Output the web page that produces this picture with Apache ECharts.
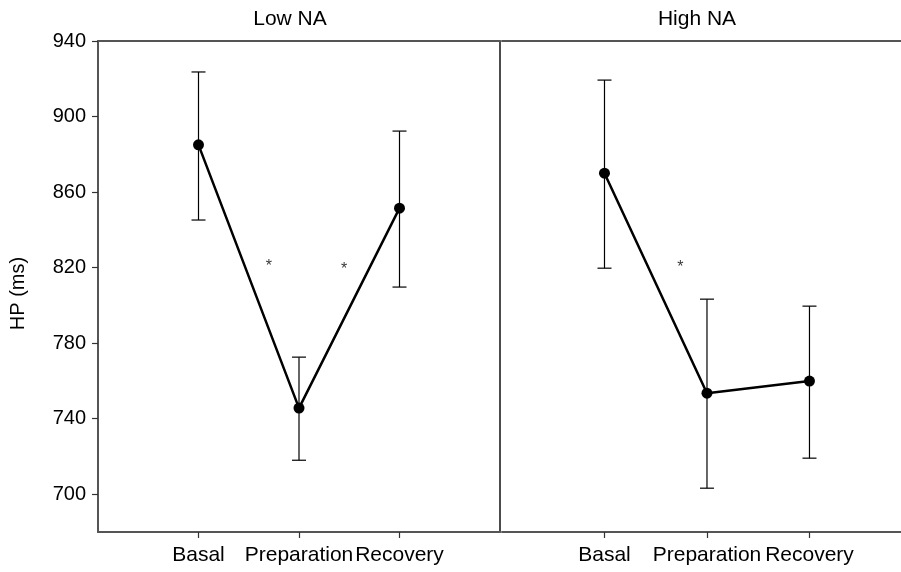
<!DOCTYPE html>
<html>
<head>
<meta charset="utf-8">
<script src="https://cdn.jsdelivr.net/npm/echarts@6/dist/echarts.min.js"></script>
<style>html,body{margin:0;padding:0;background:#fff}#c{width:901px;height:572px}</style>
</head>
<body>
<div id="c"></div>
<script>
var categories = ['Basal', 'Preparation', 'Recovery'];
var yTicks = [700, 740, 780, 820, 860, 900, 940];
var panelTitles = ['Low NA', 'High NA'];
var lowMean = [885, 745.6, 851.5];
var lowUpper = [923.6, 772.6, 892.3];
var lowLower = [845.2, 718, 809.7];
var highMean = [870, 753.5, 759.9];
var highUpper = [919.3, 803.3, 799.6];
var highLower = [819.7, 703.2, 719.1];
var lowStars = [[1.70, 820.8], [2.45, 819.2]];
var highStars = [[1.74, 820]];

var FONT = '"Liberation Sans", Arial, Helvetica, sans-serif';
var chart = echarts.init(document.getElementById('c'));

function pts(means) { return means.map(function (v, i) { return [i + 1, v]; }); }
function errs(lo, hi) { return lo.map(function (v, i) { return [i + 1, v, hi[i]]; }); }

function errRender(params, api) {
  var x = api.value(0);
  var a = api.coord([x, api.value(1)]);
  var b = api.coord([x, api.value(2)]);
  var w = 7;
  var st = { stroke: '#000', lineWidth: 1.2 };
  return {
    type: 'group',
    children: [
      { type: 'line', shape: { x1: a[0], y1: a[1], x2: b[0], y2: b[1] }, style: st },
      { type: 'line', shape: { x1: a[0] - w, y1: a[1], x2: a[0] + w, y2: a[1] }, style: st },
      { type: 'line', shape: { x1: b[0] - w, y1: b[1], x2: b[0] + w, y2: b[1] }, style: st }
    ]
  };
}

function bottomX(gi, mx) {
  return {
    type: 'value', gridIndex: gi, position: 'bottom', min: 0, max: mx,
    axisLine: { show: true, lineStyle: { color: '#555', width: 2 } },
    axisTick: { show: true, customValues: [1, 2, 3], length: 6, lineStyle: { color: '#333', width: 1.2 } },
    axisLabel: { show: true, customValues: [1, 2, 3], margin: 13, color: '#000', fontSize: 21, fontFamily: FONT,
      formatter: function (v) { return categories[Math.round(v) - 1] || ''; } },
    splitLine: { show: false }
  };
}
function topX(gi, mx) {
  return {
    type: 'value', gridIndex: gi, position: 'top', min: 0, max: mx,
    axisLine: { show: true, onZero: false, lineStyle: { color: '#555', width: 2 } },
    axisTick: { show: false }, axisLabel: { show: false }, splitLine: { show: false }
  };
}
function starSeries(xi, yi, data) {
  return {
    type: 'scatter', xAxisIndex: xi, yAxisIndex: yi, data: data, symbolSize: 1,
    itemStyle: { color: 'rgba(0,0,0,0)' }, silent: true,
    label: { show: true, position: 'inside', formatter: '*', color: '#000', fontSize: 16, fontFamily: FONT }
  };
}

var RIGHT_MAX = 3.893;

chart.setOption({
  animation: false,
  backgroundColor: '#fff',
  graphic: [
    { type: 'text', x: 290, y: 9, style: { text: panelTitles[0], textAlign: 'center', fill: '#000', fontSize: 21, fontFamily: FONT } },
    { type: 'text', x: 697, y: 9, style: { text: panelTitles[1], textAlign: 'center', fill: '#000', fontSize: 21, fontFamily: FONT } }
  ],
  grid: [
    { left: 98, top: 41, width: 402, height: 491 },
    { left: 502, top: 41, right: 0, height: 491 }
  ],
  xAxis: [bottomX(0, 4), topX(0, 4), bottomX(1, RIGHT_MAX), topX(1, RIGHT_MAX)],
  yAxis: [
    {
      type: 'value', gridIndex: 0, position: 'left', min: 680, max: 940,
      name: 'HP (ms)', nameLocation: 'middle', nameGap: 70,
      nameTextStyle: { color: '#000', fontSize: 20, fontFamily: FONT, padding: [0, 14, 0, 0] },
      axisLine: { show: true, lineStyle: { color: '#555', width: 2 } },
      axisTick: { show: true, customValues: yTicks, length: 6, lineStyle: { color: '#333', width: 1.2 } },
      axisLabel: { show: true, customValues: yTicks, margin: 12, color: '#000', fontSize: 20, fontFamily: FONT },
      splitLine: { show: false }
    },
    {
      type: 'value', gridIndex: 0, position: 'right', min: 680, max: 940,
      axisLine: { show: true, onZero: false, lineStyle: { color: '#111', width: 1.5 } },
      axisTick: { show: false }, axisLabel: { show: false }, splitLine: { show: false }
    },
    {
      type: 'value', gridIndex: 1, position: 'left', min: 680, max: 940,
      axisLine: { show: false }, axisTick: { show: false }, axisLabel: { show: false }, splitLine: { show: false }
    }
  ],
  series: [
    { type: 'custom', xAxisIndex: 0, yAxisIndex: 0, data: errs(lowLower, lowUpper), renderItem: errRender, silent: true },
    { type: 'custom', xAxisIndex: 2, yAxisIndex: 2, data: errs(highLower, highUpper), renderItem: errRender, silent: true },
    { type: 'line', xAxisIndex: 0, yAxisIndex: 0, data: pts(lowMean), symbol: 'circle', symbolSize: 11,
      lineStyle: { color: '#000', width: 2.5 }, itemStyle: { color: '#000' }, z: 5 },
    { type: 'line', xAxisIndex: 2, yAxisIndex: 2, data: pts(highMean), symbol: 'circle', symbolSize: 11,
      lineStyle: { color: '#000', width: 2.5 }, itemStyle: { color: '#000' }, z: 5 },
    starSeries(0, 0, lowStars),
    starSeries(2, 2, highStars)
  ]
});
</script>
</body>
</html>
